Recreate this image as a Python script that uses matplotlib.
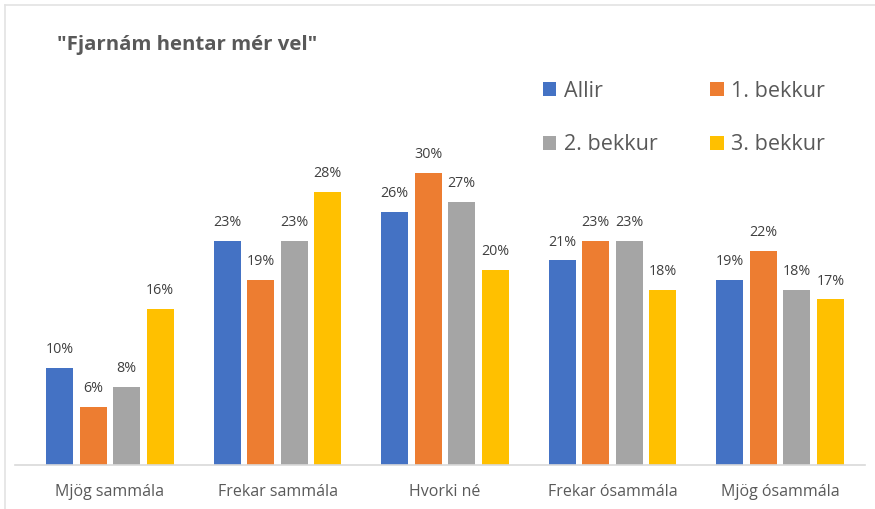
import matplotlib
matplotlib.use("Agg")
import matplotlib.pyplot as plt
from matplotlib.patches import Patch
from matplotlib.lines import Line2D
import numpy as np

plt.rcParams['font.family'] = ['Open Sans', 'DejaVu Sans']

categories = ["Mjög sammála", "Frekar sammála", "Hvorki né", "Frekar ósammála", "Mjög ósammála"]
series_names = ["Allir", "1. bekkur", "2. bekkur", "3. bekkur"]
allir = [10, 23, 26, 21, 19]
bekkur1 = [6, 19, 30, 23, 22]
bekkur2 = [8, 23, 27, 23, 18]
bekkur3 = [16, 28, 20, 18, 17]
colors = ["#4472C4", "#ED7D31", "#A5A5A5", "#FFC000"]
title = '"Fjarnám hentar mér vel"'

W, H = 875, 509
fig = plt.figure(figsize=(W / 100, H / 100), dpi=100)
ax_left, ax_right = 15, 865
ax_bottom = 465
ymax = 35
ax_top = ax_bottom - ymax * 9.75
ax = fig.add_axes([ax_left / W, (H - ax_bottom) / H, (ax_right - ax_left) / W, (ax_bottom - ax_top) / H])

x = np.arange(len(categories))
pitch = 0.2
width = 0.161
series = [allir, bekkur1, bekkur2, bekkur3]
for i, (vals, c) in enumerate(zip(series, colors)):
    pos = x + (i - 1.5) * pitch
    ax.bar(pos, vals, width=width, color=c, zorder=2)
    for p, v in zip(pos, vals):
        ax.text(p, v + 1.1, f"{v}%", ha="center", va="bottom", fontsize=10.3, color="#404040")

ax.set_xlim(-0.567, 4.507)
ax.set_ylim(0, ymax)
ax.set_yticks([])
ax.set_xticks(x)
ax.set_xticklabels(categories, fontsize=11.5, color="#595959")
ax.tick_params(axis="x", length=0, pad=14)
for s in ["top", "right", "left"]:
    ax.spines[s].set_visible(False)
ax.spines["bottom"].set_color("#D9D9D9")
ax.spines["bottom"].set_linewidth(1.2)

fig.text(57 / W, 1 - 45 / H, title, fontsize=14.7, fontweight="bold", color="#595959", va="center", ha="left")

# legend: 2 columns, row-major order (Allir, 1. bekkur / 2. bekkur, 3. bekkur)
handles = [Patch(facecolor=c, edgecolor="none") for c in colors]
order = [0, 2, 1, 3]
leg = fig.legend([handles[k] for k in order], [series_names[k] for k in order], ncol=2, loc="upper left",
                 bbox_to_anchor=(543 / W, 1 - 81 / H), frameon=False,
                 fontsize=15.5, handlelength=0.62, handleheight=0.62,
                 handletextpad=0.35, columnspacing=2.45, labelspacing=1.5,
                 borderpad=0, borderaxespad=0)
for t in leg.get_texts():
    t.set_color("#595959")

fig.add_artist(Line2D([5 / W, 1], [1 - 5 / H, 1 - 5 / H], color="#E3E3E3", lw=1.2))
fig.add_artist(Line2D([5 / W, 5 / W], [0, 1 - 5 / H], color="#E3E3E3", lw=1.2))

fig.savefig("out.png", dpi=100)
